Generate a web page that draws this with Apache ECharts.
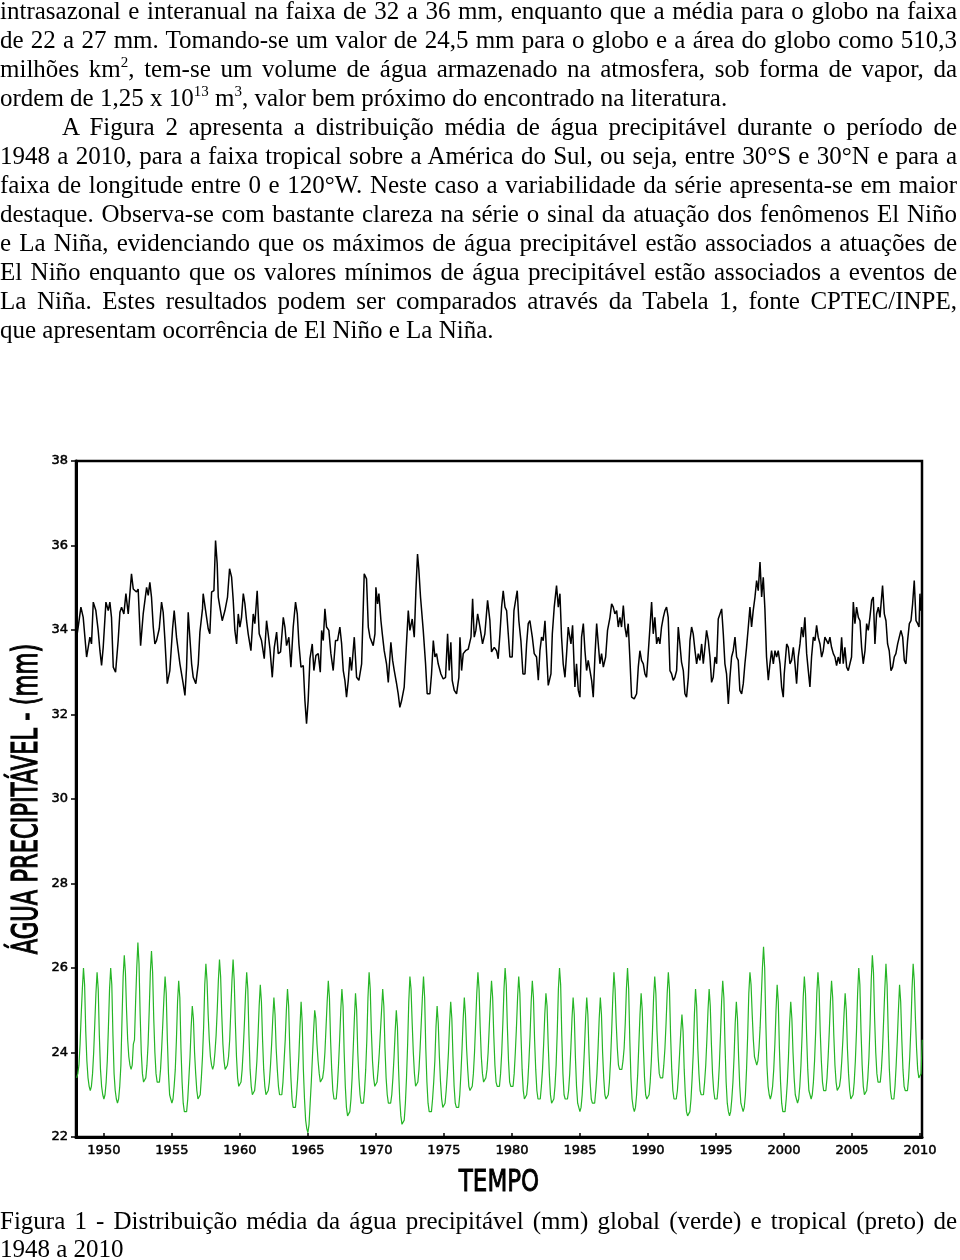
<!DOCTYPE html>
<html>
<head>
<meta charset="utf-8">
<script src="https://cdn.jsdelivr.net/npm/echarts@6/dist/echarts.min.js"></script>
<style>
html,body{margin:0;padding:0;background:#fff;width:960px;height:1260px;overflow:hidden;}
#chart{position:absolute;left:0;top:0;width:960px;height:1260px;}
.t{position:absolute;left:0;width:957px;font-family:"Liberation Serif","Times New Roman",serif;font-size:25px;line-height:29px;white-space:nowrap;color:#000;}
.t span{display:inline-block;}
sup{font-size:15px;line-height:0;vertical-align:baseline;position:relative;top:-10px;}
</style>
</head>
<body>
<div id="chart"></div>

<div class="t j" style="top:-4px"><span>intrasazonal e interanual na faixa de 32 a 36 mm, enquanto que a média para o globo na faixa</span></div>
<div class="t j" style="top:25px"><span>de 22 a 27 mm. Tomando-se um valor de 24,5 mm para o globo e a área do globo como 510,3</span></div>
<div class="t j" style="top:54px"><span>milhões km<sup>2</sup>, tem-se um volume de água armazenado na atmosfera, sob forma de vapor, da</span></div>
<div class="t" style="top:83px"><span>ordem de 1,25 x 10<sup>13</sup> m<sup>3</sup>, valor bem próximo do encontrado na literatura.</span></div>
<div class="t j" style="top:112px;left:62px;width:895px"><span>A Figura 2 apresenta a distribuição média de água precipitável durante o período de</span></div>
<div class="t j" style="top:141px"><span>1948 a 2010, para a faixa tropical sobre a América do Sul, ou seja, entre 30°S e 30°N e para a</span></div>
<div class="t j" style="top:170px"><span>faixa de longitude entre 0 e 120°W. Neste caso a variabilidade da série apresenta-se em maior</span></div>
<div class="t j" style="top:199px"><span>destaque. Observa-se com bastante clareza na série o sinal da atuação dos fenômenos El Niño</span></div>
<div class="t j" style="top:228px"><span>e La Niña, evidenciando que os máximos de água precipitável estão associados a atuações de</span></div>
<div class="t j" style="top:257px"><span>El Niño enquanto que os valores mínimos de água precipitável estão associados a eventos de</span></div>
<div class="t j" style="top:286px"><span>La Niña. Estes resultados podem ser comparados através da Tabela 1, fonte CPTEC/INPE,</span></div>
<div class="t" style="top:315px"><span>que apresentam ocorrência de El Niño e La Niña.</span></div>

<div class="t j" style="top:1206px"><span>Figura 1 - Distribuição média da água precipitável (mm) global (verde) e tropical (preto) de</span></div>
<div class="t" style="top:1234px"><span>1948 a 2010</span></div>

<script>
// ---------------- data ----------------
const startYear = 1948;
const xTickLabels = [1950, 1955, 1960, 1965, 1970, 1975, 1980, 1985, 1990, 1995, 2000, 2005, 2010];
const yTickLabels = [22, 24, 26, 28, 30, 32, 34, 36, 38];

// global (green) monthly values, Jan..Dec, from 1948
const globalValues = [
23.4,23.5,23.7,24.2,24.9,25.5,26.0,25.6,24.5,23.8,23.4,23.2, // 1948
23.1,23.2,23.5,24.0,24.7,25.4,25.9,25.5,24.4,23.6,23.2,23.0, // 1949
22.9,23.0,23.3,23.8,24.6,25.5,26.0,25.6,24.4,23.5,23.1,22.9, // 1950
22.8,22.9,23.2,23.7,24.8,25.8,26.3,25.9,25.0,24.3,23.9,23.7, // 1951
23.6,23.7,24.2,24.3,25.2,26.0,26.6,26.1,24.9,24.0,23.5,23.3, // 1952
23.3,23.4,23.7,24.2,25.0,25.9,26.4,25.9,24.8,24.0,23.5,23.3, // 1953
23.3,23.3,23.6,24.1,24.7,25.3,25.8,25.4,24.3,23.5,23.0,22.9, // 1954
22.8,22.9,23.2,23.6,24.3,25.2,25.7,25.3,24.1,23.3,22.8,22.6, // 1955
22.6,22.6,22.9,23.4,23.9,24.6,25.1,24.8,24.0,23.5,23.1,22.9, // 1956
22.9,23.0,23.4,23.9,24.6,25.6,26.1,25.7,24.9,24.3,23.9,23.7, // 1957
23.6,23.7,24.0,24.4,25.0,25.7,26.2,25.8,24.9,24.2,23.8,23.6, // 1958
23.6,23.7,23.9,24.3,25.0,25.7,26.2,25.7,24.7,23.9,23.4,23.2, // 1959
23.2,23.3,23.6,24.1,24.7,25.4,25.9,25.5,24.4,23.6,23.2,23.0, // 1960
23.0,23.1,23.4,23.8,24.4,25.1,25.6,25.2,24.3,23.6,23.2,23.0, // 1961
23.0,23.1,23.3,23.7,24.2,24.8,25.3,24.9,24.1,23.6,23.2,23.0, // 1962
23.0,23.0,23.3,23.8,24.3,25.0,25.5,25.1,24.1,23.4,22.9,22.7, // 1963
22.7,22.7,23.0,23.4,23.9,24.6,25.2,24.7,23.6,22.9,22.4,22.2, // 1964
22.1,22.3,22.8,23.3,23.9,24.5,25.0,24.8,24.2,23.8,23.5,23.3, // 1965
23.3,23.4,23.6,24.0,24.6,25.2,25.7,25.3,24.3,23.6,23.1,22.9, // 1966
22.9,22.9,23.2,23.7,24.3,25.0,25.5,25.1,24.0,23.2,22.7,22.5, // 1967
22.5,22.6,22.9,23.4,24.1,24.8,25.4,25.0,24.0,23.4,23.0,22.8, // 1968
22.8,22.8,23.1,23.6,24.3,25.3,25.9,25.5,24.5,23.8,23.4,23.2, // 1969
23.2,23.3,23.6,24.0,24.5,25.0,25.5,25.1,24.1,23.4,23.0,22.8, // 1970
22.8,22.8,23.0,23.4,23.9,24.5,25.0,24.6,23.6,22.9,22.5,22.3, // 1971
22.3,22.4,22.8,23.4,24.2,25.2,25.8,25.5,24.7,24.0,23.5,23.2, // 1972
23.2,23.3,23.6,24.1,24.7,25.3,25.8,25.3,24.1,23.3,22.8,22.6, // 1973
22.6,22.6,22.9,23.3,23.8,24.6,25.1,24.7,23.9,23.3,22.9,22.7, // 1974
22.7,22.8,23.1,23.5,24.0,24.7,25.2,24.8,23.9,23.2,22.8,22.7, // 1975
22.7,22.7,23.0,23.5,24.1,24.8,25.3,24.9,24.1,23.6,23.2,23.1, // 1976
23.1,23.2,23.5,24.0,24.7,25.4,25.9,25.5,24.6,23.9,23.5,23.3, // 1977
23.3,23.4,23.6,24.0,24.6,25.2,25.7,25.3,24.4,23.7,23.3,23.2, // 1978
23.2,23.2,23.5,24.0,24.7,25.5,26.0,25.6,24.6,23.8,23.3,23.2, // 1979
23.2,23.2,23.5,24.0,24.6,25.3,25.8,25.4,24.4,23.6,23.1,22.9, // 1980
22.9,23.0,23.3,23.8,24.4,25.2,25.7,25.3,24.3,23.6,23.1,22.9, // 1981
22.9,22.9,23.2,23.6,24.2,24.9,25.4,25.1,24.2,23.5,23.0,22.8, // 1982
22.8,22.9,23.2,23.7,24.5,25.5,26.0,25.6,24.4,23.5,23.0,22.9, // 1983
22.9,22.9,23.1,23.5,24.1,24.8,25.3,24.9,23.9,23.2,22.8,22.7, // 1984
22.6,22.7,23.0,23.5,24.1,24.8,25.3,24.9,24.0,23.3,22.9,22.8, // 1985
22.8,22.8,23.1,23.5,24.1,24.8,25.3,24.9,24.0,23.4,23.0,22.9, // 1986
22.9,23.0,23.3,23.8,24.5,25.3,25.9,25.5,24.7,24.1,23.7,23.6, // 1987
23.6,23.6,23.8,24.1,24.7,25.5,26.0,25.5,24.3,23.4,22.9,22.7, // 1988
22.6,22.7,23.0,23.5,24.2,24.9,25.4,25.0,24.1,23.4,23.0,22.9, // 1989
22.9,23.0,23.3,23.8,24.5,25.3,25.8,25.4,24.5,23.9,23.5,23.4, // 1990
23.4,23.4,23.7,24.1,24.7,25.4,25.9,25.5,24.4,23.6,23.1,22.9, // 1991
22.9,22.9,23.1,23.5,24.0,24.5,24.9,24.5,23.6,23.0,22.6,22.5, // 1992
22.5,22.6,22.9,23.4,24.0,24.9,25.5,25.1,24.1,23.5,23.1,23.0, // 1993
23.0,23.0,23.3,23.7,24.3,25.0,25.5,25.1,24.2,23.5,23.1,22.9, // 1994
22.9,22.9,23.2,23.7,24.4,25.2,25.7,25.3,24.2,23.3,22.8,22.6, // 1995
22.5,22.6,22.9,23.3,23.9,24.7,25.2,24.8,23.9,23.2,22.8,22.7, // 1996
22.6,22.7,23.0,23.6,24.4,25.4,25.9,25.6,24.9,24.3,23.9,23.8, // 1997
23.7,23.8,24.1,24.6,25.3,26.0,26.5,26.0,24.7,23.7,23.2,23.0, // 1998
22.9,23.0,23.2,23.6,24.2,25.0,25.6,25.2,24.1,23.3,22.8,22.6, // 1999
22.6,22.6,22.9,23.3,23.9,24.7,25.2,24.8,24.0,23.4,23.0,22.9, // 2000
22.8,22.9,23.2,23.7,24.4,25.3,25.8,25.4,24.4,23.6,23.1,23.0, // 2001
22.9,23.0,23.3,23.8,24.5,25.4,25.9,25.5,24.5,23.8,23.3,23.1, // 2002
23.1,23.1,23.4,23.9,24.5,25.2,25.7,25.3,24.4,23.7,23.3,23.1, // 2003
23.1,23.2,23.4,23.8,24.3,24.9,25.4,25.0,24.1,23.5,23.1,22.9, // 2004
22.9,23.0,23.3,23.8,24.5,25.4,26.0,25.6,24.5,23.7,23.2,23.0, // 2005
23.0,23.1,23.4,23.9,24.7,25.7,26.3,25.9,24.8,24.0,23.5,23.3, // 2006
23.3,23.3,23.6,24.1,24.8,25.5,26.1,25.6,24.5,23.6,23.1,22.9, // 2007
22.9,22.9,23.2,23.7,24.3,25.0,25.6,25.2,24.3,23.6,23.2,23.1, // 2008
23.1,23.1,23.4,23.9,24.6,25.5,26.1,25.7,24.8,24.1,23.6,23.4, // 2009
23.4,23.5,24.3                                                // 2010
];

// tropical (black) series: time (decimal year) and value
const tropicalTime = [
1948.00,1948.11,1948.31,1948.48,1948.60,1948.73,1948.85,1948.97,1949.09,1949.22,1949.41,1949.58,1949.71,1949.83,1949.95,
1950.15,1950.32,1950.44,1950.56,1950.69,1950.86,1951.05,1951.18,1951.30,1951.47,1951.62,1951.79,1951.91,
1952.03,1952.16,1952.40,1952.52,1952.70,1952.89,1953.14,1953.26,1953.38,1953.50,1953.63,1953.75,1953.87,
1954.07,1954.24,1954.36,1954.49,1954.66,1954.85,1955.05,1955.17,1955.34,1955.59,1955.83,1955.96,
1956.08,1956.20,1956.32,1956.45,1956.57,1956.76,1956.94,1957.06,1957.25,1957.30,1957.55,1957.67,1957.79,1957.92,
1958.09,1958.21,1958.33,1958.41,1958.53,1958.70,1958.90,1959.09,1959.24,1959.39,1959.51,1959.63,1959.76,1959.88,
1960.00,1960.12,1960.25,1960.37,1960.49,1960.61,1960.81,1960.98,1961.10,1961.27,1961.42,1961.59,1961.79,1961.96,
1962.08,1962.21,1962.38,1962.53,1962.70,1962.82,1962.99,1963.19,1963.31,1963.43,1963.60,1963.75,1963.92,
1964.09,1964.22,1964.34,1964.49,1964.66,1964.78,1964.90,1965.02,1965.15,1965.32,1965.44,1965.59,1965.76,1965.91,
1966.01,1966.13,1966.25,1966.37,1966.54,1966.69,1966.86,1967.03,1967.18,1967.35,1967.48,1967.60,1967.72,1967.84,1967.97,
1968.09,1968.21,1968.41,1968.58,1968.75,1968.95,1969.07,1969.14,1969.31,1969.44,1969.56,1969.80,1969.93,
1970.00,1970.12,1970.22,1970.37,1970.47,1970.61,1970.78,1970.91,1971.10,1971.23,1971.35,1971.52,1971.64,1971.76,1971.89,
1972.08,1972.26,1972.38,1972.50,1972.67,1972.82,1972.94,1973.06,1973.16,1973.28,1973.48,1973.65,1973.77,1973.97,
1974.09,1974.22,1974.34,1974.46,1974.58,1974.78,1974.95,1975.12,1975.27,1975.39,1975.51,1975.61,1975.76,1975.93,
1976.10,1976.18,1976.30,1976.42,1976.59,1976.79,1976.99,1977.11,1977.23,1977.35,1977.48,1977.65,1977.84,
1978.01,1978.21,1978.38,1978.50,1978.70,1978.87,1978.99,1979.12,1979.24,1979.36,1979.49,1979.61,1979.73,1979.85,
1980.02,1980.15,1980.27,1980.39,1980.51,1980.66,1980.81,1980.96,1981.08,1981.20,1981.32,1981.50,1981.64,1981.81,1981.94,
1982.06,1982.18,1982.30,1982.43,1982.55,1982.67,1982.87,1982.97,1983.11,1983.28,1983.41,1983.53,1983.65,1983.77,1983.90,
1984.02,1984.14,1984.34,1984.46,1984.63,1984.75,1984.88,1985.00,1985.12,1985.25,1985.37,1985.49,1985.61,1985.74,1985.86,1985.98,
1986.10,1986.23,1986.35,1986.47,1986.59,1986.72,1986.89,1987.03,1987.21,1987.33,1987.45,1987.57,1987.70,1987.82,1987.94,
1988.06,1988.19,1988.31,1988.43,1988.55,1988.68,1988.80,1988.99,1989.17,1989.29,1989.41,1989.53,1989.66,1989.78,1989.90,
1990.02,1990.15,1990.27,1990.39,1990.51,1990.64,1990.76,1990.88,1991.00,1991.13,1991.25,1991.37,1991.49,1991.62,1991.74,1991.86,1991.98,
1992.11,1992.23,1992.35,1992.47,1992.60,1992.72,1992.84,1992.97,1993.09,1993.21,1993.33,1993.46,1993.58,1993.70,1993.82,1993.95,
1994.07,1994.19,1994.31,1994.44,1994.56,1994.68,1994.80,1994.93,1995.05,1995.17,1995.29,1995.42,1995.54,1995.66,1995.78,1995.91,
1996.03,1996.15,1996.27,1996.40,1996.52,1996.64,1996.76,1996.89,1997.01,1997.13,1997.25,1997.38,1997.50,1997.62,1997.74,1997.87,1997.99,
1998.11,1998.24,1998.36,1998.48,1998.60,1998.72,1998.85,1998.97,1999.09,1999.22,1999.34,1999.46,1999.58,1999.71,1999.83,1999.95,
2000.02,2000.20,2000.32,2000.44,2000.56,2000.69,2000.81,2000.93,2001.05,2001.18,2001.30,2001.42,2001.54,2001.67,2001.79,2001.91,
2002.03,2002.16,2002.28,2002.40,2002.52,2002.65,2002.77,2002.89,2003.01,2003.14,2003.26,2003.38,2003.50,2003.63,2003.75,2003.87,2003.99,
2004.12,2004.24,2004.36,2004.48,2004.61,2004.73,2004.85,2004.97,2005.10,2005.22,2005.34,2005.47,2005.59,2005.71,2005.83,2005.96,
2006.08,2006.20,2006.32,2006.45,2006.57,2006.69,2006.81,2006.94,2007.06,2007.18,2007.25,2007.38,2007.50,2007.62,2007.74,2007.87,2007.99,
2008.11,2008.23,2008.36,2008.48,2008.60,2008.73,2008.85,2008.97,2009.09,2009.22,2009.34,2009.46,2009.58,2009.71,2009.83,2009.93,
2010.00,2010.07,2010.12
];
const tropicalValues = [
33.83,34.07,34.54,34.30,34.34,33.36,33.36,33.83,33.67,34.66,34.46,33.99,33.51,33.16,33.59,
34.66,34.46,34.66,34.30,33.12,33.00,33.75,34.42,34.54,34.38,34.86,34.38,34.42,
35.33,34.97,34.90,34.97,33.63,34.38,35.01,34.82,35.13,34.78,34.07,33.67,33.75,
34.03,34.66,34.42,33.75,32.73,33.04,34.03,34.46,33.83,33.20,32.73,32.45,
33.12,34.42,33.83,33.20,32.88,32.73,33.20,33.95,34.50,34.86,34.30,34.03,33.91,34.90,
34.93,36.12,35.57,34.78,34.54,34.22,34.46,34.78,35.45,35.25,34.70,33.99,33.67,34.38,
34.07,34.30,34.86,34.62,34.22,33.91,33.51,34.38,34.15,34.93,33.91,33.75,33.32,34.22,
33.91,33.55,32.88,33.59,33.95,33.44,33.48,34.30,34.07,33.63,33.83,33.12,34.07,
34.66,34.38,33.67,33.12,33.16,32.33,31.78,32.33,33.32,33.67,33.04,33.40,33.44,33.00,
33.99,33.75,34.50,34.07,33.99,33.44,33.04,33.75,33.75,34.07,33.67,33.04,32.81,32.41,32.81,
33.36,33.04,33.83,32.88,32.81,33.20,34.54,35.33,35.21,34.07,33.83,33.63,33.91,
35.01,34.62,34.86,34.22,33.91,33.51,33.20,32.76,33.71,33.28,33.04,32.73,32.49,32.17,32.33,
32.65,33.75,34.46,33.99,34.26,33.83,34.93,35.80,35.41,34.78,33.99,33.20,32.49,32.49,
32.96,33.75,33.36,33.44,33.20,32.96,32.84,32.88,33.91,33.04,33.71,32.81,32.57,32.49,
32.88,33.83,33.04,33.44,33.51,33.55,33.83,34.74,33.83,33.99,34.38,34.07,33.67,
33.91,34.70,34.22,33.48,33.59,33.51,33.32,33.91,34.54,34.93,34.54,34.46,33.91,33.36,
33.36,34.46,34.70,34.93,34.22,33.75,32.96,32.96,33.67,34.15,34.22,33.83,33.44,33.36,32.81,
33.51,33.83,33.75,34.22,33.44,32.69,32.96,33.91,34.54,35.05,34.54,34.86,33.83,33.20,32.88,
33.44,34.07,33.67,34.11,32.65,33.20,32.57,32.41,33.83,34.15,33.51,33.04,33.28,33.04,32.81,32.41,
33.36,34.15,33.67,33.20,33.44,33.12,33.36,33.99,34.30,34.62,34.54,34.38,34.46,34.07,34.30,
34.07,34.58,34.07,33.83,34.15,33.28,32.41,32.37,32.49,33.12,33.51,33.28,33.20,32.96,32.88,
33.44,34.07,34.66,33.91,34.30,33.67,33.83,33.67,34.07,34.30,34.46,34.54,34.30,33.04,32.96,32.81,32.88,
33.04,34.07,33.67,33.24,33.04,32.49,32.41,32.88,33.75,34.07,33.91,33.51,33.20,33.44,33.28,33.67,
33.20,33.59,33.99,33.75,33.36,32.76,32.88,33.36,33.20,34.26,34.22,34.50,33.91,33.20,32.96,32.25,
32.88,33.36,33.51,33.83,33.36,33.28,32.57,32.49,32.73,33.20,33.59,34.07,34.54,34.07,34.46,34.78,35.17,
34.93,35.61,34.78,35.25,34.50,33.36,32.81,33.20,33.51,33.20,33.51,33.36,33.51,33.20,32.65,32.41,
32.96,33.67,33.59,33.20,33.28,33.59,33.20,32.73,33.36,33.67,34.07,33.83,34.30,33.44,33.04,32.65,
33.36,33.83,33.75,34.11,33.83,33.67,33.36,33.51,33.83,33.83,33.67,33.83,33.59,33.44,33.36,33.16,33.36,
33.20,33.83,33.20,33.59,33.12,33.04,33.20,33.36,34.66,34.15,34.54,34.30,34.22,33.59,33.20,33.51,
34.15,33.99,34.30,34.70,34.78,33.67,34.38,34.54,34.30,34.78,35.05,34.38,34.22,33.67,33.51,33.04,33.12,
33.36,33.44,33.67,33.83,33.99,33.83,33.28,33.20,33.75,34.15,34.22,34.62,35.17,34.22,34.15,34.07,
34.86,34.46,34.62
];

// ---------------- chart ----------------
const globalData = globalValues.map((v, i) => [startYear + i / 12, v]);
const tropicalData = tropicalTime.map((t, i) => [t, tropicalValues[i]]);

const labelStyle = {fontFamily: 'DejaVu Sans', fontSize: 13, color: '#000', textBorderColor: '#000', textBorderWidth: 0.5};

const chart = echarts.init(document.getElementById('chart'), null, {renderer: 'canvas'});
chart.setOption({
  animation: false,
  backgroundColor: 'transparent',
  grid: {left: 76, top: 461, width: 846, height: 676, show: true, borderColor: '#000', borderWidth: 2.5,
         containLabel: false, outerBoundsMode: 'none'},
  xAxis: {
    type: 'value', min: 1947.95, max: 2010.15,
    axisLine: {show: true, onZero: false, lineStyle: {color: '#000', width: 3}},
    axisTick: {show: true, inside: true, length: 4, customValues: xTickLabels, lineStyle: {color: '#000', width: 1.5}},
    axisLabel: Object.assign({customValues: xTickLabels, margin: 7, formatter: v => String(Math.round(v))}, labelStyle),
    splitLine: {show: false}
  },
  yAxis: {
    type: 'value', min: 22, max: 38, interval: 2,
    axisLine: {show: true, lineStyle: {color: '#000', width: 3}},
    axisTick: {show: true, inside: false, length: 5, lineStyle: {color: '#000', width: 1.5}},
    axisLabel: Object.assign({margin: 8, showMinLabel: true, showMaxLabel: true}, labelStyle),
    splitLine: {show: false}
  },
  series: [
    {name: 'global', type: 'line', data: globalData, symbol: 'none', showSymbol: false, clip: true,
     lineStyle: {color: '#26b526', width: 1.2}},
    {name: 'tropical', type: 'line', data: tropicalData, symbol: 'none', showSymbol: false, clip: true,
     lineStyle: {color: '#000', width: 1.5}}
  ],
  graphic: [
    {type: 'text', x: 28, y: 799, rotation: Math.PI / 2, scaleX: 1.13, scaleY: 1.78,
     style: {text: 'ÁGUA PRECIPITÁVEL - (mm)', font: '20px "DejaVu Sans"', fill: '#000',
             stroke: '#000', lineWidth: 0.7,
             textAlign: 'center', textVerticalAlign: 'middle'}},
    {type: 'text', x: 499, y: 1183, scaleX: 1, scaleY: 1.3,
     style: {text: 'TEMPO', font: '23px "DejaVu Sans"', fill: '#000',
             stroke: '#000', lineWidth: 0.7,
             textAlign: 'center', textVerticalAlign: 'middle'}}
  ]
});

// ---------------- justify text lines ----------------
function justify() {
  document.querySelectorAll('.t.j span').forEach(s => {
    s.style.wordSpacing = '0px';
    const w = s.parentElement.clientWidth;
    const nat = s.getBoundingClientRect().width;
    const n = (s.textContent.match(/ /g) || []).length;
    if (n) s.style.wordSpacing = ((w - nat) / n) + 'px';
  });
}
justify();
if (document.fonts && document.fonts.ready) document.fonts.ready.then(justify);
</script>
</body>
</html>
